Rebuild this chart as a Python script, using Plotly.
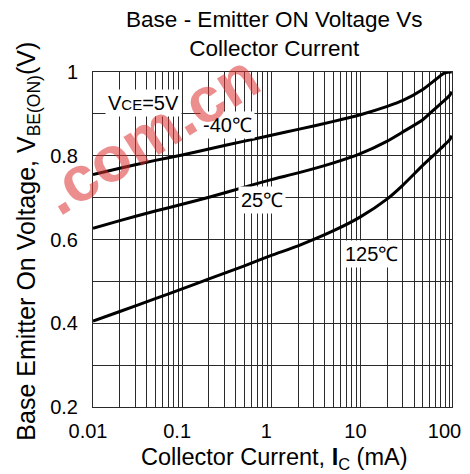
import math
import plotly.graph_objects as go

# ---- data ----
current_ma = [0.01, 0.02, 0.05, 0.1, 0.2, 0.5, 1, 2, 5, 10, 20, 30, 50, 70, 85, 100, 106]
vbe_m40 = [0.755, 0.770, 0.789, 0.802, 0.816, 0.835, 0.849, 0.863, 0.882, 0.898, 0.918, 0.932, 0.958, 0.982, 0.996, 1.0, 1.0]
vbe_25 = [0.627, 0.645, 0.668, 0.684, 0.701, 0.725, 0.743, 0.759, 0.783, 0.805, 0.835, 0.857, 0.886, 0.914, 0.930, 0.944, 0.953]
vbe_125 = [0.405, 0.428, 0.459, 0.482, 0.506, 0.537, 0.562, 0.585, 0.621, 0.654, 0.697, 0.730, 0.777, 0.806, 0.823, 0.838, 0.848]

x_tickvals = [0.01, 0.02, 0.03, 0.04, 0.05, 0.06, 0.07, 0.08, 0.09,
              0.1, 0.2, 0.3, 0.4, 0.5, 0.6, 0.7, 0.8, 0.9,
              1, 2, 3, 4, 5, 6, 7, 8, 9,
              10, 20, 30, 40, 50, 60, 70, 80, 90, 100]
x_ticktext = ["0.01", "", "", "", "", "", "", "", "",
              "0.1", "", "", "", "", "", "", "", "",
              "1", "", "", "", "", "", "", "", "",
              "10", "", "", "", "", "", "", "", "", "100"]
y_tickvals = [0.2, 0.3, 0.4, 0.5, 0.6, 0.7, 0.8, 0.9, 1.0]
y_ticktext = ["0.2", "", "0.4", "", "0.6", "", "0.8", "", "1"]

FONT = "Liberation Sans, Arial, sans-serif"
GRID = "#2a2a2a"

# The page body adds an 8 px margin, so the figure is 8 px smaller
# and every position is measured from that offset.
W, H = 462, 466

fig = go.Figure()
for ys in (vbe_m40, vbe_25, vbe_125):
    fig.add_trace(go.Scatter(x=current_ma, y=ys, mode="lines",
                             line=dict(color="black", width=3, shape="spline", smoothing=0.6),
                             showlegend=False, hoverinfo="skip"))

fig.update_layout(
    width=W, height=H,
    margin=dict(l=85, r=9, t=64, b=67),
    paper_bgcolor="white", plot_bgcolor="white",
    font=dict(family=FONT, color="black"),
    title=dict(text="Base - Emitter ON Voltage Vs<br>Collector Current",
               font=dict(size=22.5, family=FONT, color="black"),
               x=0.505, xref="paper", xanchor="center",
               y=1 - 19 / H, yref="container", yanchor="top"),
    xaxis=dict(type="log", range=[-2, math.log10(106.5)],
               tickmode="array", tickvals=x_tickvals, ticktext=x_ticktext,
               showgrid=True, gridcolor=GRID, gridwidth=1,
               showline=True, mirror=True, linecolor=GRID, linewidth=1,
               ticks="", zeroline=False,
               tickfont=dict(size=20, family=FONT, color="black"),
               ticklabelshift=-5, ticklabelstandoff=6, ticklabeloverflow="allow"),
    yaxis=dict(range=[0.2, 1.0],
               tickmode="array", tickvals=y_tickvals, ticktext=y_ticktext,
               showgrid=True, gridcolor=GRID, gridwidth=1,
               showline=True, mirror=True, linecolor=GRID, linewidth=1,
               ticks="", zeroline=False,
               tickfont=dict(size=20, family=FONT, color="black"),
               ticklabelstandoff=10),
)

ann = []
# axis titles
ann.append(dict(text="Collector Current, <b>I</b><sub>C</sub> (mA)", xref="paper", yref="paper",
                x=0.505, y=-0.155, xanchor="center", yanchor="middle", showarrow=False,
                font=dict(size=23.5, family=FONT, color="black")))
ann.append(dict(text="Base Emitter On Voltage, V<sub>BE(ON)</sub>(V)", xref="paper", yref="paper",
                x=-0.182, y=0.4955, xanchor="center", yanchor="middle", showarrow=False,
                textangle=-90, font=dict(size=25, family=FONT, color="black")))
# curve labels
labels = [
    ("V<span style='font-size:15px'>CE</span>=5V", 0.141, 0.907),
    ("-40℃", 0.376, 0.843),
    ("25℃", 0.471, 0.618),
    ("125℃", 0.775, 0.458),
]
for t, x, y in labels:
    ann.append(dict(text=t, xref="paper", yref="paper", x=x, y=y,
                    xanchor="center", yanchor="middle", showarrow=False,
                    bgcolor="white", borderpad=2,
                    font=dict(size=20, family=FONT, color="black")))
# red watermark seen on the reference
ann.append(dict(text="<b>.com.cn</b>", xref="paper", yref="paper",
                x=0.16, y=0.816, xanchor="center", yanchor="middle",
                showarrow=False, textangle=-32,
                font=dict(size=64, family=FONT, color="rgba(220,50,50,0.55)")))
fig.update_layout(annotations=ann)

fig.write_html("out.html")
